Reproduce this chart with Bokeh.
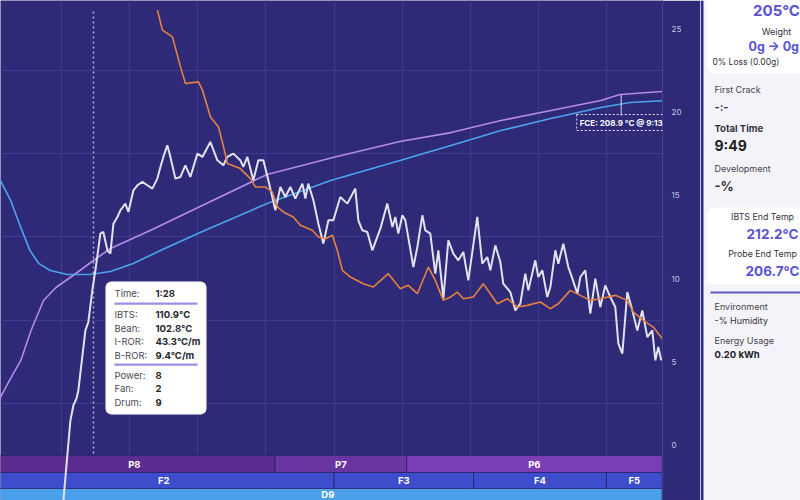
import numpy as np
from bokeh.plotting import figure
from bokeh.models import Range1d, FixedTicker, Grid, BoxAnnotation, Label
from bokeh.layouts import row
from bokeh.core.properties import value
from bokeh.embed import file_html
from bokeh.resources import INLINE

FONT = "Inter"

# ---------------- data (seconds, °C, °C/min) ----------------
bean_t = [0, 6, 15, 24, 32, 40, 50, 65, 84, 88, 103, 123, 147, 182, 241, 297, 358, 403, 447, 491, 535, 561, 589]
bean_c = [170, 158.9, 146.9, 130.7, 117.0, 109.0, 104.9, 102.5, 102.5, 102.8, 104.3, 109.1, 116.9, 127.7, 145.1,
          158.9, 170.9, 179.9, 188.8, 196.0, 202.6, 205.6, 206.7]

ibts_t = [0, 6, 15, 24, 33, 44, 55, 70, 88, 103, 138, 182, 241, 299, 358, 403, 447, 491, 535, 552, 589]
ibts_c = [15, 28.8, 40.2, 51.0, 68.9, 86.9, 94.7, 101.9, 110.9, 118.1, 128.9, 143.3, 162.5, 172.7, 182.3, 187.6,
          194.8, 200.8, 206.8, 210.4, 212.2]

iror_t = [58, 61.5, 67.7, 70.3, 73.0, 74.7, 80.9, 83.5, 87.0, 89.7,
          94.1, 96.7, 100.3, 102.9, 105.6, 109.1, 111.7, 116.1, 118.8, 123.2,
          126.7, 131.1, 135.5, 139.9, 144.3, 147.0, 149.6, 153.1, 155.8, 160.2,
          164.6, 169.0, 173.4, 179.6, 184.0, 191.0, 197.2, 202.5, 206.0, 211.3,
          217.4, 220.1, 223.6, 228.9, 233.3, 237.7, 242.1, 248.3, 252.7, 257.1,
          261.5, 265.9, 272.1, 274.7, 277.3, 281.8, 286.2, 290.6, 295.0, 299.4,
          305.5, 311.7, 318.7, 321.4, 324.9, 329.3, 333.7, 340.8, 346.9, 351.4,
          354.0, 356.6, 360.2, 362.8, 369.9, 373.4, 377.8, 380.4, 384.8, 389.2,
          391.9, 396.3, 400.7, 405.1, 409.5, 413.9, 418.3, 426.2, 430.6, 435.0,
          437.7, 442.1, 446.5, 449.1, 455.3, 459.7, 464.1, 468.5, 471.2, 477.3,
          480.0, 483.5, 487.9, 490.6, 495.0, 497.6, 502.0, 506.4, 510.0, 514.4,
          517.0, 521.4, 525.8, 530.2, 534.6, 539.0, 543.4, 547.8, 550.5, 554.0,
          558.4, 562.8, 567.2, 571.6, 576.0, 580.4, 583.1, 585.7, 588.3]
iror_v = [-6.0, -3.3, 1.5, 2.4, 2.8, 3.3, 6.9, 7.4, 9.3, 10.5,
          12.7, 12.8, 11.7, 11.5, 13.3, 13.7, 14.1, 14.5, 14.0, 15.3,
          15.6, 15.8, 15.6, 15.4, 16.0, 16.7, 17.3, 18.0, 17.3, 16.0,
          16.1, 16.8, 16.1, 17.5, 17.3, 18.2, 17.1, 16.8, 17.3, 17.5,
          17.1, 16.7, 17.3, 15.9, 17.1, 17.1, 15.9, 14.1, 15.5, 14.9,
          15.5, 14.8, 15.7, 14.8, 15.7, 14.7, 13.3, 12.1, 13.5, 13.5,
          14.9, 14.5, 15.4, 13.5, 12.9, 12.8, 11.7, 13.0, 14.5, 13.1,
          13.7, 12.7, 13.8, 13.5, 10.7, 11.9, 13.8, 12.9, 12.7, 10.3,
          11.7, 8.8, 12.3, 11.5, 11.1, 11.6, 9.9, 13.7, 10.9, 11.3,
          10.5, 12.0, 11.0, 9.7, 9.2, 8.1, 8.5, 10.3, 9.3, 11.1,
          10.1, 10.5, 8.9, 9.5, 11.7, 10.9, 12.1, 10.7, 10.0, 9.1,
          10.1, 10.5, 7.9, 10.0, 8.3, 9.6, 8.9, 8.3, 6.1, 5.5,
          9.2, 8.1, 6.9, 8.1, 6.5, 6.9, 5.1, 5.9, 5.1]

bror_t = [144.4, 148.8, 157.6, 164.7, 169.1, 180.5, 184.1, 191.1, 198.2, 202.6, 206.1, 217.4, 226.3,
          230.7, 239.5, 245.6, 250.0, 255.3, 264.1, 270.3, 280.9, 286.2, 292.3,
          298.5, 302.9, 307.3, 314.4, 325.8, 334.6, 347.8, 358.4, 365.4, 373.4,
          383.1, 389.2, 396.3, 402.5, 408.6, 413.9, 422.7, 431.5, 437.7, 443.9,
          452.7, 461.5, 470.3, 481.7, 490.6, 497.6, 508.2, 517.0, 525.8, 534.6,
          547.8, 558.4, 563.7, 572.5, 581.3, 589.2]
bror_v = [26.1, 24.9, 24.5, 22.7, 21.7, 21.8, 21.3, 19.7, 19.1, 17.9, 16.9, 16.6, 16.0,
          15.5, 15.5, 15.2, 14.3, 14.0, 13.7, 13.2, 12.9, 12.5, 12.4,
          12.6, 11.7, 10.5, 10.1, 9.7, 9.5, 10.3, 9.4, 9.6, 9.1,
          10.7, 9.9, 8.7, 8.9, 9.2, 8.8, 8.9, 9.7, 9.1, 8.5,
          8.8, 8.3, 8.4, 8.6, 8.2, 8.5, 9.3, 9.0, 8.7, 8.8,
          9.0, 8.7, 8.0, 7.5, 7.1, 6.4]

ror_ticks = [0, 5, 10, 15, 20, 25]
grid_r = [2.5, 7.5, 12.5, 17.5, 22.5]
grid_t = [60, 120, 180, 240, 300, 360, 420, 480, 540]

power_names = ["P8", "P7", "P6"]
power_start = [0, 248, 364]
power_end = [248, 364, 589]
fan_names = ["F2", "F3", "F4", "F5"]
fan_start = [0, 300, 423, 540]
fan_end = [300, 423, 540, 589]
drum_names = ["D9"]
drum_start = [0]
drum_end = [589]

cursor_t = 88
tip_labels = ["Time:", "IBTS:", "Bean:", "I-ROR:", "B-ROR:", "Power:", "Fan:", "Drum:"]
tip_values = ["1:28", "110.9°C", "102.8°C", "43.3°C/m", "9.4°C/m", "8", "2", "9"]

fce_t = 553
fce_text = "FCE: 208.9 °C @ 9:13"

# ---------------- layout helpers ----------------
T_START, T_END = 6.1, 589.4
R_BOTTOM, R_TOP = -3.30, 26.68
W_FRAME, H_FRAME = 662, 500


def px_t(px):
    return T_START + px * (T_END - T_START) / W_FRAME


def px_r(py):
    return R_TOP - py * (R_TOP - R_BOTTOM) / H_FRAME


BG = "#2e2a78"
GRID = "#3e3b8a"

p = figure(width=700, height=500, x_range=Range1d(T_START, T_END), y_range=Range1d(R_BOTTOM, R_TOP),
           output_backend="svg", toolbar_location=None, x_axis_location=None, y_axis_location="right",
           min_border_left=0, min_border_right=38, min_border_top=0, min_border_bottom=0)
p.background_fill_color = BG
p.border_fill_color = BG
p.outline_line_color = None
p.extra_y_ranges = {"temp": Range1d(R_BOTTOM * 10, R_TOP * 10)}

ax = p.yaxis[0]
ax.ticker = FixedTicker(ticks=ror_ticks)
ax.axis_line_color = "#46438f"
ax.major_tick_line_color = None
ax.minor_tick_line_color = None
ax.major_label_text_color = "#c6c5e6"
ax.major_label_text_font_size = "8px"
ax.major_label_text_font = FONT
ax.major_label_standoff = 3

for g in p.xgrid:
    g.visible = False
p.ygrid.ticker = FixedTicker(ticks=grid_r)
p.ygrid.grid_line_color = GRID
p.add_layout(Grid(dimension=0, ticker=FixedTicker(ticks=grid_t), grid_line_color=GRID))

# event bands
bands = [
    (power_names, power_start, power_end, px_r(455), px_r(472), px_r(463.5), ["#5b2b8f", "#6a34a3", "#7a3db3"]),
    (fan_names, fan_start, fan_end, px_r(472), px_r(488), px_r(480), ["#3d4dcc"] * 4),
    (drum_names, drum_start, drum_end, px_r(488), px_r(506), px_r(494), ["#4a9feb"]),
]
for names, st, en, top, bot, mid, cols in bands:
    p.quad(left=st, right=en, top=top, bottom=bot, fill_color=cols, line_color="#2a1f66", line_alpha=0.7,
           line_width=1)
    p.text(x=[(a + b) / 2 for a, b in zip(st, en)], y=[mid] * len(names), text=names,
           text_align="center", text_baseline="middle", text_color="white", text_font_size="9.5px",
           text_font_style="bold", text_font=value(FONT))

# curves
p.line(ibts_t, ibts_c, y_range_name="temp", line_color="#b58be8", line_width=1.6)
p.line(bean_t, bean_c, y_range_name="temp", line_color="#4ca4f0", line_width=1.6)
p.line(iror_t, iror_v, line_color="#e2e2ee", line_width=2)
p.line(bror_t, bror_v, line_color="#e6813f", line_width=1.6)

# cursor
p.segment(x0=[cursor_t], y0=[px_r(453)], x1=[cursor_t], y1=[px_r(10)], line_color="#d0d0f0",
          line_dash="2 3", line_width=1.5, line_alpha=0.8)

# FCE marker
p.segment(x0=[fce_t], y0=[float(np.interp(fce_t, ibts_t, ibts_c))], x1=[fce_t], y1=[px_r(115) * 10],
          y_range_name="temp", line_color="#d8d8f0", line_width=1)
p.add_layout(Label(x=fce_t, y=px_r(122), text=fce_text, text_align="center", text_baseline="middle",
                   text_color="white", text_font=FONT, text_font_size="8px", text_font_style="bold",
                   border_line_color="#e0e0f0", border_line_dash="2 2", border_line_width=1, padding=3,
                   level="overlay"))

# tooltip
p.add_layout(BoxAnnotation(left=px_t(105), right=px_t(206), top=px_r(281), bottom=px_r(414),
                           fill_color="white", fill_alpha=1, line_color=None, border_radius=6,
                           level="annotation"))
row_y = [293, 314, 328, 341, 355, 375, 388, 402]
for lab, val, yy in zip(tip_labels, tip_values, row_y):
    p.add_layout(Label(x=px_t(114), y=px_r(yy), text=lab, text_baseline="middle", text_color="#4a4a55",
                       text_font=FONT, text_font_size="9.5px", level="overlay"))
    p.add_layout(Label(x=px_t(155), y=px_r(yy), text=val, text_baseline="middle", text_color="#26262e",
                       text_font=FONT, text_font_size="9.5px", text_font_style="bold", level="overlay"))
for yy in [303, 364]:
    p.add_layout(BoxAnnotation(left=px_t(114), right=px_t(197), top=px_r(yy - 1), bottom=px_r(yy + 1.2),
                               fill_color="#9d8fe6", fill_alpha=1, line_color=None, level="overlay"))

# ---------------- right panel ----------------
q = figure(width=100, height=500, x_range=Range1d(0, 100), y_range=Range1d(500, 0),
           output_backend="svg", toolbar_location=None, x_axis_location=None, y_axis_location=None,
           min_border=0)
PANEL = "#f4f3f9"
q.background_fill_color = PANEL
q.border_fill_color = PANEL
q.outline_line_color = None
q.xgrid.visible = False
q.ygrid.visible = False

q.quad(left=[0], right=[3], top=[0], bottom=[500], fill_color="#2b2d8f", line_color=None)
q.quad(left=[6, 6], right=[170, 170], top=[-20, 207], bottom=[73, 284], fill_color="white",
       line_color=None, border_radius=8)
q.quad(left=[10], right=[100], top=[291], bottom=[293], fill_color="#5b57c4", line_color=None)

ACC = "#5a53d6"
panel_items = [
    (76, 10, "205°C", "15px", ACC, "bold", "center"),
    (76, 31, "Weight", "9px", "#333340", "normal", "center"),
    (48, 46, "0g → 0g", "12.5px", ACC, "bold", "left"),
    (12, 61, "0% Loss (0.00g)", "8.5px", "#333340", "normal", "left"),
    (14, 89, "First Crack", "9px", "#44444f", "normal", "left"),
    (14, 106, "-:-", "11px", "#333340", "bold", "left"),
    (14, 128, "Total Time", "9.5px", "#333340", "bold", "left"),
    (14, 145, "9:49", "14px", "#222228", "bold", "left"),
    (14, 168, "Development", "9px", "#44444f", "normal", "left"),
    (14, 185, "-%", "13px", "#333340", "bold", "left"),
    (62, 216, "IBTS End Temp", "8.8px", "#333340", "normal", "center"),
    (72, 233, "212.2°C", "13.5px", ACC, "bold", "center"),
    (62, 253, "Probe End Temp", "8.8px", "#333340", "normal", "center"),
    (72, 270, "206.7°C", "13.5px", ACC, "bold", "center"),
    (14, 306, "Environment", "9px", "#44444f", "normal", "left"),
    (14, 320, "-% Humidity", "9px", "#333340", "normal", "left"),
    (14, 340, "Energy Usage", "9px", "#44444f", "normal", "left"),
    (14, 354, "0.20 kWh", "9.5px", "#222228", "bold", "left"),
]
for x, y, t, s, c, st, al in panel_items:
    q.text(x=[x], y=[y], text=[t], text_font_size=s, text_color=c, text_font_style=st, text_align=al,
           text_baseline="middle", text_font=value(FONT))

layout = row(p, q, spacing=0)
open("out.html", "w").write(file_html(layout, INLINE))
